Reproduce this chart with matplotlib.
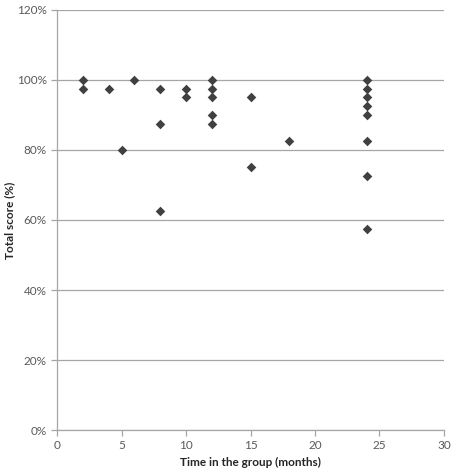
"""Scatter of total score against time spent in the group."""

import matplotlib

matplotlib.use("Agg")
import matplotlib.pyplot as plt
from matplotlib.ticker import FuncFormatter

months = [2, 2, 4, 5, 6, 8, 8, 8, 10, 10, 12, 12, 12, 12, 12,
          15, 15, 18, 24, 24, 24, 24, 24, 24, 24, 24]
score_pct = [100, 97.5, 97.5, 80, 100, 97.5, 87.5, 62.5, 97.5, 95,
             100, 97.5, 95, 90, 87.5, 95, 75, 82.5,
             100, 97.5, 95, 92.5, 90, 82.5, 72.5, 57.5]

x_ticks = [0, 5, 10, 15, 20, 25, 30]
y_ticks = [0, 20, 40, 60, 80, 100, 120]

plt.rcParams["font.family"] = ["Lato", "DejaVu Sans"]

fig = plt.figure(figsize=(4.58, 4.75), dpi=100)
ax = fig.add_axes([0.1245, 0.0947, 0.8449, 0.8843])

axis_grey = "#a6a6a6"
ax.scatter(months, score_pct, marker="D", s=24, color="#404040", zorder=3, linewidths=0)

ax.set_xlim(0, 30)
ax.set_ylim(0, 120)
ax.set_xticks(x_ticks)
ax.set_yticks(y_ticks)
ax.yaxis.set_major_formatter(FuncFormatter(lambda v, _: f"{v:.0f}%"))
ax.grid(axis="y", color=axis_grey, linewidth=0.9)
ax.set_axisbelow(True)

for side in ("top", "right"):
    ax.spines[side].set_visible(False)
for side in ("left", "bottom"):
    ax.spines[side].set_color(axis_grey)
    ax.spines[side].set_linewidth(0.9)

ax.tick_params(axis="both", colors=axis_grey, labelcolor="#595959", labelsize=8.5, length=4, width=0.9)
ax.set_xlabel("Time in the group (months)", fontsize=8.5, fontweight="bold", color="#262626")
ax.xaxis.set_label_coords(0.5, -0.064)
ax.set_ylabel("Total score (%)", fontsize=8.5, fontweight="bold", color="#262626")
ax.yaxis.set_label_coords(-0.108, 0.5)

fig.savefig("out.png", dpi=100)
